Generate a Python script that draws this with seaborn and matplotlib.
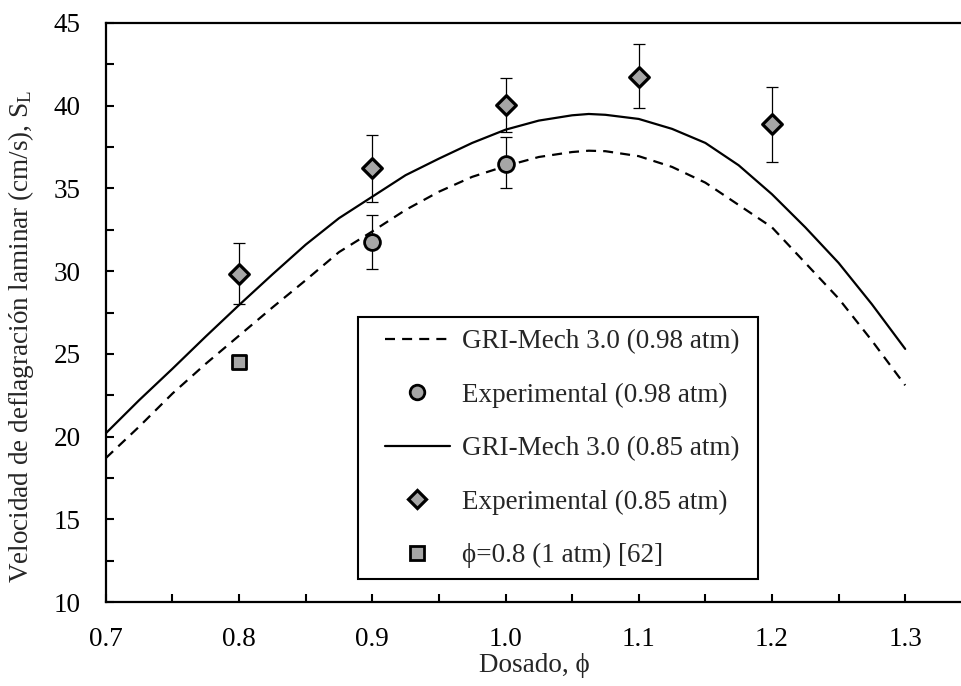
import matplotlib
matplotlib.use("Agg")
import matplotlib.pyplot as plt
import seaborn as sns
import numpy as np
import pandas as pd
from matplotlib.ticker import MultipleLocator, FormatStrFormatter
from matplotlib.lines import Line2D
from matplotlib.patches import Rectangle

# ---- data ----
phi_curve = [0.700, 0.725, 0.750, 0.775, 0.800, 0.825, 0.850, 0.875, 0.900, 0.925,
             0.950, 0.975, 1.000, 1.025, 1.050, 1.0625, 1.075, 1.100, 1.125, 1.150,
             1.175, 1.200, 1.225, 1.250, 1.275, 1.300]
sl_gri_098 = [18.7, 20.6, 22.6, 24.4, 26.1, 27.8, 29.45, 31.15, 32.4, 33.7,
              34.8, 35.7, 36.35, 36.9, 37.2, 37.28, 37.25, 36.95, 36.3, 35.35,
              34.0, 32.65, 30.5, 28.35, 25.8, 23.1]
sl_gri_085 = [20.2, 22.2, 24.1, 26.05, 27.95, 29.8, 31.6, 33.2, 34.5, 35.8,
              36.8, 37.75, 38.55, 39.1, 39.42, 39.5, 39.45, 39.2, 38.6, 37.75,
              36.4, 34.65, 32.65, 30.5, 28.0, 25.3]

phi_exp_098 = [0.9, 1.0]
sl_exp_098 = [31.75, 36.5]
err_lo_098 = [30.1, 35.0]
err_hi_098 = [33.4, 38.1]

phi_exp_085 = [0.8, 0.9, 1.0, 1.1, 1.2]
sl_exp_085 = [29.8, 36.25, 40.05, 41.76, 38.9]
err_lo_085 = [28.0, 34.2, 38.4, 39.85, 36.62]
err_hi_085 = [31.7, 38.2, 41.7, 43.72, 41.14]

phi_ref = [0.8]
sl_ref = [24.5]

labels = ["GRI-Mech 3.0 (0.98 atm)", "Experimental (0.98 atm)",
          "GRI-Mech 3.0 (0.85 atm)", "Experimental (0.85 atm)",
          "\u03d5=0.8 (1 atm) [62]"]

# ---- style ----
sns.set_theme(style="ticks")
plt.rcParams["font.family"] = ["Liberation Serif", "DejaVu Serif"]
plt.rcParams["mathtext.fontset"] = "stix"
plt.rcParams["axes.linewidth"] = 1.6

fig = plt.figure(figsize=(9.62, 6.86), dpi=100)
ax = fig.add_axes([0.110, 0.1224, 0.890, 0.8441])

fill = "#a6a6a6"
dash = (0, (4.5, 3.2))
df_curve = pd.DataFrame({"phi": phi_curve, "g098": sl_gri_098, "g085": sl_gri_085})

sns.lineplot(data=df_curve, x="phi", y="g098", ax=ax, color="black", lw=1.6,
             linestyle=dash, legend=False)
sns.lineplot(data=df_curve, x="phi", y="g085", ax=ax, color="black", lw=1.6,
             legend=False)

# error bars
ax.errorbar(phi_exp_098, sl_exp_098,
            yerr=[np.array(sl_exp_098) - np.array(err_lo_098),
                  np.array(err_hi_098) - np.array(sl_exp_098)],
            fmt="none", ecolor="black", elinewidth=0.9, capsize=4.5, capthick=0.9, zorder=3)
ax.errorbar(phi_exp_085, sl_exp_085,
            yerr=[np.array(sl_exp_085) - np.array(err_lo_085),
                  np.array(err_hi_085) - np.array(sl_exp_085)],
            fmt="none", ecolor="black", elinewidth=0.9, capsize=4.5, capthick=0.9, zorder=3)

sns.scatterplot(x=phi_exp_098, y=sl_exp_098, ax=ax, marker="o", s=130,
                color=fill, edgecolor="black", linewidth=2.0, zorder=4, legend=False)
sns.scatterplot(x=phi_exp_085, y=sl_exp_085, ax=ax, marker="D", s=100,
                color=fill, edgecolor="black", linewidth=2.3, zorder=4, legend=False)
sns.scatterplot(x=phi_ref, y=sl_ref, ax=ax, marker="s", s=115,
                color=fill, edgecolor="black", linewidth=2.0, zorder=4, legend=False)

# axes
ax.set_xlim(0.7, 0.7 + 856 / 1332.0)
ax.set_ylim(10, 45)
ax.xaxis.set_major_locator(MultipleLocator(0.1))
ax.xaxis.set_minor_locator(MultipleLocator(0.05))
ax.xaxis.set_major_formatter(FormatStrFormatter("%.1f"))
ax.yaxis.set_major_locator(MultipleLocator(5))
ax.yaxis.set_minor_locator(MultipleLocator(2.5))
ax.tick_params(which="both", direction="in", length=6, width=1.5, colors="black",
               labelsize=19.5, top=False, right=False)
ax.tick_params(axis="x", which="major", pad=18)
ax.tick_params(axis="y", which="major", pad=18)
for s in ["top", "left", "bottom"]:
    ax.spines[s].set_visible(True)
    ax.spines[s].set_color("black")
ax.spines["right"].set_visible(False)

ax.set_xlabel("Dosado, \u03d5", fontsize=19.5, labelpad=1)
ax.set_ylabel(r"Velocidad de deflagración laminar (cm/s), S$_\mathregular{L}$",
              fontsize=19.5)
ax.yaxis.set_label_coords(-0.081, 0.459)

# legend frame + legend
ax.add_patch(Rectangle((0.2944, 0.0397), 0.4673, 0.4525, transform=ax.transAxes,
                       facecolor="white", edgecolor="black", lw=1.5, zorder=5))
handles = [
    Line2D([], [], color="black", lw=1.6, linestyle=dash),
    Line2D([], [], marker="o", ls="none", markersize=10.5, markerfacecolor=fill,
           markeredgecolor="black", markeredgewidth=2.0),
    Line2D([], [], color="black", lw=1.6),
    Line2D([], [], marker="D", ls="none", markersize=9, markerfacecolor=fill,
           markeredgecolor="black", markeredgewidth=2.3),
    Line2D([], [], marker="s", ls="none", markersize=10, markerfacecolor=fill,
           markeredgecolor="black", markeredgewidth=2.0),
]
leg = ax.legend(handles, labels, loc="upper left", bbox_to_anchor=(0.326, 0.4715),
                fontsize=19.5, frameon=False, handlelength=2.4, handletextpad=0.45,
                labelspacing=1.05, borderpad=0, borderaxespad=0)
leg.set_zorder(6)

fig.savefig("out.png", dpi=100)
